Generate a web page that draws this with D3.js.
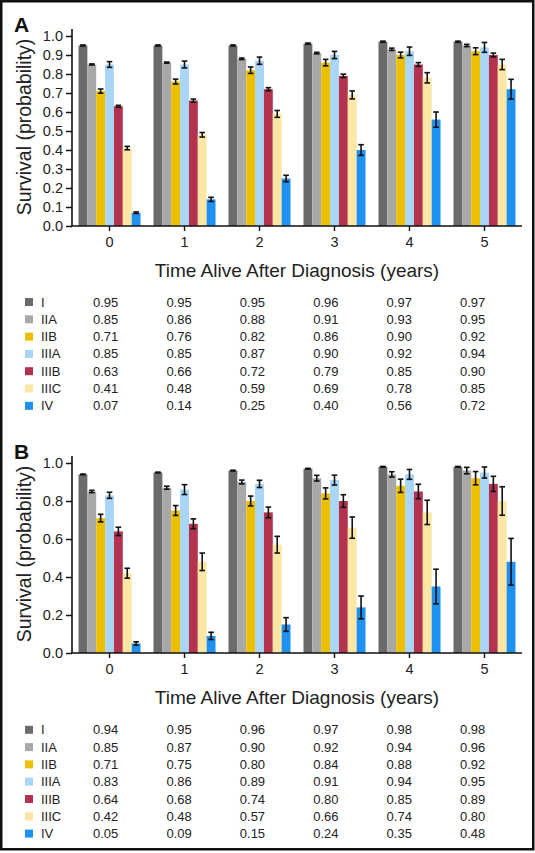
<!DOCTYPE html>
<html>
<head>
<meta charset="utf-8">
<script src="https://cdn.jsdelivr.net/npm/d3@7"></script>
<style>
  html, body { margin: 0; padding: 0; background: #fff; }
  svg { display: block; font-family: "Liberation Sans", Arial, sans-serif; }
</style>
</head>
<body>
<svg id="chart" width="535" height="853"></svg>
<script>
// ---------- data ----------
const stages = ["I", "IIA", "IIB", "IIIA", "IIIB", "IIIC", "IV"];
const years = ["0", "1", "2", "3", "4", "5"];
const stageColors = ["#6b6b6b", "#a8a8a8", "#ecc000", "#a9d5f7", "#b3334f", "#fbe7a3", "#1f91f0"];

// Panel A survival (rows = stage, cols = year)
const survivalA = [
  [0.95, 0.95, 0.95, 0.96, 0.97, 0.97],
  [0.85, 0.86, 0.88, 0.91, 0.93, 0.95],
  [0.71, 0.76, 0.82, 0.86, 0.90, 0.92],
  [0.85, 0.85, 0.87, 0.90, 0.92, 0.94],
  [0.63, 0.66, 0.72, 0.79, 0.85, 0.90],
  [0.41, 0.48, 0.59, 0.69, 0.78, 0.85],
  [0.07, 0.14, 0.25, 0.40, 0.56, 0.72]
];
// Panel A error half-widths
const errorA = [
  [0.003, 0.003, 0.003, 0.003, 0.003, 0.003],
  [0.003, 0.003, 0.004, 0.004, 0.006, 0.006],
  [0.011, 0.013, 0.017, 0.017, 0.015, 0.018],
  [0.015, 0.018, 0.019, 0.019, 0.022, 0.026],
  [0.005, 0.008, 0.008, 0.009, 0.010, 0.010],
  [0.009, 0.012, 0.018, 0.021, 0.027, 0.027],
  [0.004, 0.011, 0.017, 0.028, 0.040, 0.052]
];
// Panel B survival
const survivalB = [
  [0.94, 0.95, 0.96, 0.97, 0.98, 0.98],
  [0.85, 0.87, 0.90, 0.92, 0.94, 0.96],
  [0.71, 0.75, 0.80, 0.84, 0.88, 0.92],
  [0.83, 0.86, 0.89, 0.91, 0.94, 0.95],
  [0.64, 0.68, 0.74, 0.80, 0.85, 0.89],
  [0.42, 0.48, 0.57, 0.66, 0.74, 0.80],
  [0.05, 0.09, 0.15, 0.24, 0.35, 0.48]
];
// Panel B error half-widths (estimated)
const errorB = [
  [0.002, 0.002, 0.002, 0.002, 0.002, 0.002],
  [0.006, 0.008, 0.010, 0.015, 0.014, 0.017],
  [0.020, 0.026, 0.026, 0.029, 0.035, 0.035],
  [0.016, 0.026, 0.019, 0.026, 0.026, 0.029],
  [0.022, 0.026, 0.028, 0.033, 0.038, 0.040],
  [0.026, 0.046, 0.044, 0.056, 0.064, 0.075],
  [0.009, 0.019, 0.036, 0.060, 0.091, 0.123]
];
const ticksA = [0, 0.1, 0.2, 0.3, 0.4, 0.5, 0.6, 0.7, 0.8, 0.9, 1.0];
const ticksB = [0, 0.2, 0.4, 0.6, 0.8, 1.0];
const yTitle = "Survival (probability)";
const xTitle = "Time Alive After Diagnosis (years)";

// ---------- drawing ----------
const svg = d3.select("#chart");
svg.append("rect").attr("x", 1.25).attr("y", 1.25).attr("width", 532).attr("height", 848)
  .attr("fill", "#fff").attr("stroke", "#111").attr("stroke-width", 2.5);

function panel(cfg) {
  const { letter, top, bottom, values, errors, ticks, tableTop } = cfg;
  const g = svg.append("g");
  const x0 = d3.scaleBand().domain(years).range([72, 522]).paddingInner(0.173).paddingOuter(0.0867);
  const x1 = d3.scaleBand().domain(stages).range([0, x0.bandwidth()]).padding(0);
  const y = d3.scaleLinear().domain([0, 1]).range([bottom, top]);
  const color = d3.scaleOrdinal().domain(stages).range(stageColors);

  const data = [];
  stages.forEach((s, i) => years.forEach((yr, j) => data.push({ s, yr, v: values[i][j], e: errors[i][j] })));

  // bars
  g.selectAll("rect.bar").data(data).join("rect").attr("class", "bar")
    .attr("x", d => x0(d.yr) + x1(d.s))
    .attr("width", x1.bandwidth())
    .attr("y", d => y(d.v))
    .attr("height", d => y(0) - y(d.v))
    .attr("fill", d => color(d.s));

  // error bars
  const cap = 2.8;
  const eb = g.selectAll("g.err").data(data).join("g").attr("class", "err")
    .attr("stroke", "#111").attr("stroke-width", 1.6);
  eb.append("line")
    .attr("x1", d => x0(d.yr) + x1(d.s) + x1.bandwidth() / 2)
    .attr("x2", d => x0(d.yr) + x1(d.s) + x1.bandwidth() / 2)
    .attr("y1", d => y(d.v + d.e)).attr("y2", d => y(d.v - d.e));
  [1, -1].forEach(sign => {
    eb.append("line")
      .attr("x1", d => x0(d.yr) + x1(d.s) + x1.bandwidth() / 2 - cap)
      .attr("x2", d => x0(d.yr) + x1(d.s) + x1.bandwidth() / 2 + cap)
      .attr("y1", d => y(d.v + sign * d.e)).attr("y2", d => y(d.v + sign * d.e));
  });

  // y axis
  const ya = g.append("g").attr("transform", "translate(72,0)")
    .call(d3.axisLeft(y).tickValues(ticks).tickFormat(d3.format(".1f")).tickSize(6).tickPadding(3));
  ya.select(".domain").remove();
  ya.selectAll("line").attr("stroke", "#111").attr("stroke-width", 1.5);
  ya.selectAll("text").attr("font-size", 14.5).attr("fill", "#222").attr("font-family", "Liberation Sans, Arial, sans-serif");
  g.append("line").attr("x1", 72).attr("x2", 72).attr("y1", y(1) - 7).attr("y2", y(0))
    .attr("stroke", "#111").attr("stroke-width", 1.6);

  // x axis
  const xa = g.append("g").attr("transform", `translate(0,${bottom})`)
    .call(d3.axisBottom(x0).tickSize(5).tickPadding(6));
  xa.select(".domain").remove();
  xa.selectAll("line").attr("stroke", "#111").attr("stroke-width", 1.4);
  xa.selectAll("text").attr("font-size", 14.5).attr("fill", "#222").attr("font-family", "Liberation Sans, Arial, sans-serif");
  g.append("line").attr("x1", 71).attr("x2", 522).attr("y1", bottom).attr("y2", bottom)
    .attr("stroke", "#111").attr("stroke-width", 1.6);

  // titles
  g.append("text").attr("x", 297).attr("y", bottom + 51).attr("text-anchor", "middle")
    .attr("font-size", 19).attr("fill", "#222").text(xTitle);
  g.append("text").attr("transform", `translate(31,${(top + bottom) / 2 - 4}) rotate(-90)`)
    .attr("text-anchor", "middle").attr("font-size", 19.5).attr("fill", "#222").text(yTitle);
  g.append("text").attr("x", 14).attr("y", top - 4).attr("font-size", 21).attr("font-weight", "bold")
    .attr("fill", "#111").text(letter);

  // table
  const rowH = 17.3;
  const colX = d3.scalePoint().domain(years).range([93, 460]);
  stages.forEach((s, i) => {
    const by = tableTop + i * rowH;
    g.append("rect").attr("x", 25).attr("y", by - 8.5).attr("width", 8).attr("height", 8).attr("fill", stageColors[i]);
    g.append("text").attr("x", 41).attr("y", by).attr("font-size", 13).attr("fill", "#222").text(s);
    years.forEach((yr, j) => {
      g.append("text").attr("x", colX(yr)).attr("y", by).attr("font-size", 13).attr("fill", "#222")
        .text(d3.format(".2f")(values[i][j]));
    });
  });
}

panel({ letter: "A", top: 36, bottom: 226, values: survivalA, errors: errorA, ticks: ticksA, tableTop: 306.5 });
panel({ letter: "B", top: 463, bottom: 653, values: survivalB, errors: errorB, ticks: ticksB, tableTop: 734.3 });
</script>
</body>
</html>
